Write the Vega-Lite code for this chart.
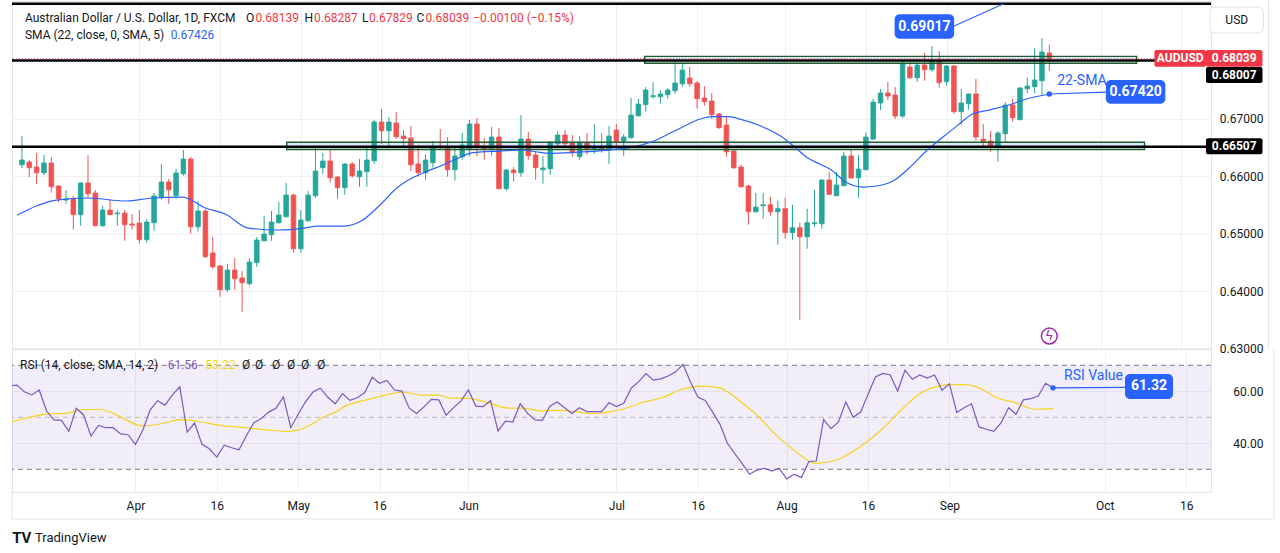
{
  "$schema": "https://vega.github.io/schema/vega-lite/v6.json",
  "background": "white",
  "padding": {"left": 10, "top": 0, "right": 0, "bottom": 0},
  "spacing": 0,
  "bounds": "flush",
  "datasets": {
    "candles": [
      {"i":1,"o":0.66196,"h":0.66695,"l":0.66139,"c":0.66278},
      {"i":2,"o":0.66243,"h":0.66278,"l":0.65982,"c":0.66144},
      {"i":3,"o":0.66156,"h":0.664,"l":0.6586,"c":0.66057},
      {"i":4,"o":0.66057,"h":0.66365,"l":0.66017,"c":0.66226},
      {"i":5,"o":0.66226,"h":0.6633,"l":0.65709,"c":0.65814},
      {"i":6,"o":0.65826,"h":0.65843,"l":0.65535,"c":0.65605},
      {"i":7,"o":0.65582,"h":0.65756,"l":0.65518,"c":0.656},
      {"i":8,"o":0.656,"h":0.65652,"l":0.65066,"c":0.65327},
      {"i":9,"o":0.65327,"h":0.6589,"l":0.65135,"c":0.65878},
      {"i":10,"o":0.65878,"h":0.66365,"l":0.65622,"c":0.65692},
      {"i":11,"o":0.65704,"h":0.65756,"l":0.65125,"c":0.65135},
      {"i":12,"o":0.65135,"h":0.65478,"l":0.65118,"c":0.65408},
      {"i":13,"o":0.65408,"h":0.656,"l":0.6532,"c":0.65327},
      {"i":14,"o":0.65344,"h":0.65408,"l":0.65135,"c":0.65356},
      {"i":15,"o":0.65356,"h":0.65408,"l":0.64874,"c":0.65153},
      {"i":16,"o":0.65165,"h":0.65339,"l":0.65066,"c":0.65147},
      {"i":17,"o":0.65182,"h":0.65408,"l":0.64822,"c":0.64892},
      {"i":18,"o":0.64892,"h":0.65252,"l":0.6484,"c":0.652},
      {"i":19,"o":0.65188,"h":0.65704,"l":0.65048,"c":0.65652},
      {"i":20,"o":0.65634,"h":0.66208,"l":0.65587,"c":0.65895},
      {"i":21,"o":0.65895,"h":0.65947,"l":0.65518,"c":0.65761},
      {"i":22,"o":0.65657,"h":0.66121,"l":0.65605,"c":0.66052},
      {"i":23,"o":0.6604,"h":0.66452,"l":0.66005,"c":0.66295},
      {"i":24,"o":0.66295,"h":0.6633,"l":0.64996,"c":0.65118},
      {"i":25,"o":0.65118,"h":0.65565,"l":0.65031,"c":0.65391},
      {"i":26,"o":0.65391,"h":0.65426,"l":0.64579,"c":0.64596},
      {"i":27,"o":0.64661,"h":0.64939,"l":0.64387,"c":0.64422},
      {"i":28,"o":0.64434,"h":0.64452,"l":0.63901,"c":0.64022},
      {"i":29,"o":0.64022,"h":0.64469,"l":0.63987,"c":0.64365},
      {"i":30,"o":0.64365,"h":0.64574,"l":0.64022,"c":0.64214},
      {"i":31,"o":0.64226,"h":0.64347,"l":0.6364,"c":0.64144},
      {"i":32,"o":0.64127,"h":0.64574,"l":0.64092,"c":0.64504},
      {"i":33,"o":0.64492,"h":0.64939,"l":0.64422,"c":0.64887},
      {"i":34,"o":0.64874,"h":0.65304,"l":0.6486,"c":0.64991},
      {"i":35,"o":0.64979,"h":0.65391,"l":0.64874,"c":0.652},
      {"i":36,"o":0.65188,"h":0.65547,"l":0.6517,"c":0.65321},
      {"i":37,"o":0.65292,"h":0.65878,"l":0.65274,"c":0.65669},
      {"i":38,"o":0.65669,"h":0.65687,"l":0.64666,"c":0.64735},
      {"i":39,"o":0.64735,"h":0.65408,"l":0.64666,"c":0.65234},
      {"i":40,"o":0.65222,"h":0.65739,"l":0.65205,"c":0.65669},
      {"i":41,"o":0.65657,"h":0.66487,"l":0.65622,"c":0.66087},
      {"i":42,"o":0.66144,"h":0.664,"l":0.6604,"c":0.6626},
      {"i":43,"o":0.6626,"h":0.66452,"l":0.65883,"c":0.6597},
      {"i":44,"o":0.65982,"h":0.66,"l":0.65605,"c":0.65796},
      {"i":45,"o":0.65796,"h":0.66226,"l":0.65675,"c":0.66208},
      {"i":46,"o":0.66208,"h":0.66243,"l":0.6597,"c":0.66005},
      {"i":47,"o":0.65987,"h":0.66295,"l":0.65814,"c":0.66087},
      {"i":48,"o":0.66075,"h":0.66487,"l":0.65814,"c":0.66278},
      {"i":49,"o":0.66266,"h":0.66974,"l":0.66213,"c":0.66939},
      {"i":50,"o":0.66939,"h":0.67165,"l":0.66561,"c":0.66787},
      {"i":51,"o":0.66787,"h":0.67026,"l":0.66509,"c":0.66939},
      {"i":52,"o":0.66921,"h":0.67113,"l":0.66643,"c":0.66683},
      {"i":53,"o":0.66695,"h":0.668,"l":0.66492,"c":0.66648},
      {"i":54,"o":0.6666,"h":0.66869,"l":0.66087,"c":0.66196},
      {"i":55,"o":0.66208,"h":0.66539,"l":0.65987,"c":0.66057},
      {"i":56,"o":0.66057,"h":0.66382,"l":0.65935,"c":0.66278},
      {"i":57,"o":0.66231,"h":0.66608,"l":0.66144,"c":0.66521},
      {"i":58,"o":0.66521,"h":0.66817,"l":0.66457,"c":0.66492},
      {"i":59,"o":0.66504,"h":0.66678,"l":0.65987,"c":0.66109},
      {"i":60,"o":0.66109,"h":0.66487,"l":0.65918,"c":0.66348},
      {"i":61,"o":0.66335,"h":0.66747,"l":0.66283,"c":0.66539},
      {"i":62,"o":0.66457,"h":0.66974,"l":0.66342,"c":0.66904},
      {"i":63,"o":0.66904,"h":0.67008,"l":0.66342,"c":0.66492},
      {"i":64,"o":0.66504,"h":0.6666,"l":0.66283,"c":0.66474},
      {"i":65,"o":0.66474,"h":0.66852,"l":0.66353,"c":0.66678},
      {"i":66,"o":0.66678,"h":0.66834,"l":0.6577,"c":0.65779},
      {"i":67,"o":0.65779,"h":0.66121,"l":0.65744,"c":0.66104},
      {"i":68,"o":0.66104,"h":0.66156,"l":0.65901,"c":0.66057},
      {"i":69,"o":0.66057,"h":0.6706,"l":0.65987,"c":0.66643},
      {"i":70,"o":0.66643,"h":0.66765,"l":0.66283,"c":0.66353},
      {"i":71,"o":0.66365,"h":0.66434,"l":0.65935,"c":0.66144},
      {"i":72,"o":0.66109,"h":0.66348,"l":0.65866,"c":0.66139},
      {"i":73,"o":0.66127,"h":0.666,"l":0.66022,"c":0.66591},
      {"i":74,"o":0.66561,"h":0.66782,"l":0.66527,"c":0.66713},
      {"i":75,"o":0.66713,"h":0.668,"l":0.66492,"c":0.66561},
      {"i":76,"o":0.66574,"h":0.66713,"l":0.66335,"c":0.66405},
      {"i":77,"o":0.66335,"h":0.66695,"l":0.66283,"c":0.66574},
      {"i":78,"o":0.66574,"h":0.66747,"l":0.6637,"c":0.66474},
      {"i":79,"o":0.66474,"h":0.66904,"l":0.66387,"c":0.66492},
      {"i":80,"o":0.66492,"h":0.66747,"l":0.66405,"c":0.66474},
      {"i":81,"o":0.66457,"h":0.66869,"l":0.66213,"c":0.66695},
      {"i":82,"o":0.668,"h":0.66904,"l":0.66447,"c":0.66596},
      {"i":83,"o":0.66596,"h":0.6673,"l":0.66353,"c":0.66678},
      {"i":84,"o":0.66666,"h":0.67356,"l":0.66648,"c":0.6706},
      {"i":85,"o":0.67048,"h":0.67339,"l":0.67031,"c":0.67252},
      {"i":86,"o":0.6724,"h":0.67547,"l":0.67118,"c":0.67495},
      {"i":87,"o":0.67379,"h":0.67634,"l":0.67344,"c":0.67396},
      {"i":88,"o":0.67379,"h":0.67495,"l":0.67257,"c":0.67426},
      {"i":89,"o":0.67413,"h":0.6753,"l":0.67344,"c":0.67495},
      {"i":90,"o":0.67483,"h":0.68017,"l":0.67431,"c":0.67617},
      {"i":91,"o":0.67605,"h":0.67947,"l":0.67553,"c":0.67843},
      {"i":92,"o":0.67704,"h":0.67895,"l":0.67553,"c":0.67605},
      {"i":93,"o":0.67617,"h":0.67652,"l":0.6717,"c":0.67344},
      {"i":94,"o":0.67356,"h":0.67565,"l":0.67222,"c":0.67292},
      {"i":95,"o":0.67304,"h":0.67443,"l":0.66996,"c":0.67066},
      {"i":96,"o":0.67078,"h":0.67095,"l":0.66822,"c":0.6684},
      {"i":97,"o":0.66886,"h":0.67043,"l":0.66335,"c":0.66422},
      {"i":98,"o":0.66434,"h":0.66474,"l":0.66127,"c":0.66144},
      {"i":99,"o":0.66156,"h":0.66196,"l":0.65796,"c":0.65814},
      {"i":100,"o":0.65826,"h":0.65849,"l":0.65153,"c":0.65379},
      {"i":101,"o":0.65379,"h":0.65709,"l":0.65361,"c":0.6546},
      {"i":102,"o":0.65483,"h":0.65709,"l":0.65257,"c":0.655},
      {"i":103,"o":0.655,"h":0.6564,"l":0.65309,"c":0.65379},
      {"i":104,"o":0.65379,"h":0.6557,"l":0.64805,"c":0.65431},
      {"i":105,"o":0.65431,"h":0.65622,"l":0.64909,"c":0.65014},
      {"i":106,"o":0.65014,"h":0.655,"l":0.64892,"c":0.65101},
      {"i":107,"o":0.65101,"h":0.65187,"l":0.63501,"c":0.64944},
      {"i":108,"o":0.64944,"h":0.65431,"l":0.64735,"c":0.65187},
      {"i":109,"o":0.6517,"h":0.65761,"l":0.65118,"c":0.65187},
      {"i":110,"o":0.6517,"h":0.65942,"l":0.65083,"c":0.6593},
      {"i":111,"o":0.6593,"h":0.66069,"l":0.65675,"c":0.65681},
      {"i":112,"o":0.65657,"h":0.66069,"l":0.6565,"c":0.65843},
      {"i":113,"o":0.65831,"h":0.66422,"l":0.6582,"c":0.66348},
      {"i":114,"o":0.66348,"h":0.66452,"l":0.6596,"c":0.65965},
      {"i":115,"o":0.6597,"h":0.66365,"l":0.65622,"c":0.66121},
      {"i":116,"o":0.66109,"h":0.66753,"l":0.66099,"c":0.66678},
      {"i":117,"o":0.66643,"h":0.67344,"l":0.66626,"c":0.67287},
      {"i":118,"o":0.67269,"h":0.67513,"l":0.67147,"c":0.67443},
      {"i":119,"o":0.67443,"h":0.67634,"l":0.67321,"c":0.67391},
      {"i":120,"o":0.67408,"h":0.67547,"l":0.66991,"c":0.67043},
      {"i":121,"o":0.67043,"h":0.68,"l":0.67013,"c":0.6796},
      {"i":122,"o":0.67895,"h":0.67977,"l":0.67692,"c":0.67709},
      {"i":123,"o":0.67709,"h":0.6796,"l":0.6764,"c":0.6793},
      {"i":124,"o":0.6793,"h":0.68139,"l":0.67657,"c":0.67848},
      {"i":125,"o":0.67848,"h":0.6826,"l":0.67814,"c":0.68005},
      {"i":126,"o":0.68005,"h":0.68173,"l":0.67535,"c":0.67622},
      {"i":127,"o":0.6764,"h":0.6793,"l":0.6757,"c":0.67913},
      {"i":128,"o":0.67913,"h":0.6793,"l":0.67083,"c":0.67118},
      {"i":129,"o":0.67118,"h":0.67513,"l":0.66899,"c":0.67269},
      {"i":130,"o":0.67257,"h":0.67435,"l":0.67153,"c":0.67426},
      {"i":131,"o":0.67426,"h":0.67687,"l":0.66614,"c":0.66678},
      {"i":132,"o":0.66643,"h":0.66904,"l":0.66492,"c":0.66591},
      {"i":133,"o":0.66608,"h":0.66782,"l":0.66422,"c":0.66521},
      {"i":134,"o":0.66521,"h":0.66782,"l":0.66248,"c":0.66747},
      {"i":135,"o":0.66735,"h":0.67287,"l":0.66596,"c":0.67234},
      {"i":136,"o":0.67234,"h":0.67339,"l":0.66944,"c":0.67013},
      {"i":137,"o":0.66979,"h":0.67547,"l":0.66975,"c":0.6753},
      {"i":138,"o":0.67518,"h":0.67709,"l":0.67443,"c":0.67565},
      {"i":139,"o":0.67553,"h":0.68226,"l":0.67443,"c":0.67669},
      {"i":140,"o":0.67657,"h":0.684,"l":0.67396,"c":0.68156},
      {"i":141,"o":0.68139,"h":0.68287,"l":0.67829,"c":0.68039}
    ],
    "sma": [
      {"i":0.33,"v":0.65316},{"i":5.73,"v":0.65582},{"i":9.78,"v":0.65617},{"i":15.19,"v":0.65565},
      {"i":18.84,"v":0.65617},{"i":22.89,"v":0.65634},{"i":26.0,"v":0.65443},{"i":28.7,"v":0.65339},
      {"i":31.81,"v":0.65095},{"i":35.86,"v":0.65061},{"i":39.51,"v":0.65095},{"i":41.27,"v":0.6513},
      {"i":44.92,"v":0.6513},{"i":47.22,"v":0.65217},{"i":49.92,"v":0.65513},{"i":52.08,"v":0.65791},
      {"i":53.43,"v":0.65913},{"i":55.73,"v":0.66057},{"i":58.03,"v":0.66174},{"i":60.19,"v":0.66295},
      {"i":62.49,"v":0.66405},{"i":66.14,"v":0.66434},{"i":69.24,"v":0.66452},{"i":71.0,"v":0.66422},
      {"i":72.89,"v":0.66394},{"i":76.41,"v":0.66412},{"i":80.05,"v":0.66443},{"i":83.7,"v":0.66492},
      {"i":86.81,"v":0.66596},{"i":89.92,"v":0.66782},{"i":93.57,"v":0.66996},{"i":94.92,"v":0.67031},
      {"i":97.22,"v":0.67031},{"i":98.97,"v":0.66986},{"i":101.68,"v":0.66869},{"i":104.38,"v":0.66695},
      {"i":106.14,"v":0.66521},{"i":108.03,"v":0.66318},{"i":109.78,"v":0.66203},{"i":111.14,"v":0.66116},
      {"i":113.43,"v":0.65883},{"i":115.59,"v":0.65808},{"i":117.49,"v":0.65826},{"i":119.92,"v":0.6593},
      {"i":121.95,"v":0.66144},{"i":124.24,"v":0.66434},{"i":126.68,"v":0.66695},{"i":128.7,"v":0.66899},
      {"i":130.46,"v":0.67073},{"i":132.76,"v":0.67147},{"i":135.46,"v":0.67234},{"i":137.76,"v":0.67334},
      {"i":141,"v":0.67426}
    ],
    "rsi": [
      {"i":0,"v":62.1},{"i":1,"v":62.4},{"i":2,"v":59.8},{"i":3,"v":58.6},{"i":4,"v":60.5},{"i":5,"v":52.4},
      {"i":6,"v":49.0},{"i":7,"v":48.8},{"i":8,"v":44.6},{"i":9,"v":53.5},{"i":10,"v":50.9},
      {"i":11,"v":42.8},{"i":12,"v":46.9},{"i":13,"v":46.0},{"i":14,"v":46.0},{"i":15,"v":43.6},
      {"i":16,"v":43.3},{"i":17,"v":39.6},{"i":18,"v":45.0},{"i":19,"v":52.9},{"i":20,"v":56.4},
      {"i":21,"v":54.7},{"i":22,"v":58.6},{"i":23,"v":61.7},{"i":24,"v":44.3},{"i":25,"v":47.8},
      {"i":26,"v":39.6},{"i":27,"v":37.9},{"i":28,"v":34.7},{"i":29,"v":39.3},{"i":30,"v":38.3},
      {"i":31,"v":37.5},{"i":32,"v":42.9},{"i":33,"v":47.9},{"i":34,"v":49.5},{"i":35,"v":52.0},
      {"i":36,"v":53.5},{"i":37,"v":57.8},{"i":38,"v":46.0},{"i":39,"v":51.2},{"i":40,"v":56.0},
      {"i":41,"v":59.7},{"i":42,"v":61.2},{"i":43,"v":57.7},{"i":44,"v":55.2},{"i":45,"v":59.1},
      {"i":46,"v":56.5},{"i":47,"v":57.5},{"i":48,"v":59.5},{"i":49,"v":65.4},{"i":50,"v":63.1},
      {"i":51,"v":64.2},{"i":52,"v":60.5},{"i":53,"v":60.1},{"i":54,"v":53.5},{"i":55,"v":51.5},
      {"i":56,"v":54.0},{"i":57,"v":56.9},{"i":58,"v":56.7},{"i":59,"v":50.8},{"i":60,"v":53.7},
      {"i":61,"v":56.3},{"i":62,"v":60.5},{"i":63,"v":54.3},{"i":64,"v":54.1},{"i":65,"v":56.4},
      {"i":66,"v":44.7},{"i":67,"v":48.5},{"i":68,"v":48.2},{"i":69,"v":55.2},{"i":70,"v":51.5},
      {"i":71,"v":49.0},{"i":72,"v":48.8},{"i":73,"v":54.3},{"i":74,"v":55.9},{"i":75,"v":53.7},
      {"i":76,"v":51.5},{"i":77,"v":53.7},{"i":78,"v":52.2},{"i":79,"v":52.2},{"i":80,"v":52.2},
      {"i":81,"v":55.6},{"i":82,"v":54.1},{"i":83,"v":55.4},{"i":84,"v":61.2},{"i":85,"v":63.7},
      {"i":86,"v":66.8},{"i":87,"v":64.3},{"i":88,"v":64.8},{"i":89,"v":65.9},{"i":90,"v":67.5},
      {"i":91,"v":70.4},{"i":92,"v":63.7},{"i":93,"v":57.8},{"i":94,"v":56.5},{"i":95,"v":52.0},
      {"i":96,"v":47.3},{"i":97,"v":40.0},{"i":98,"v":36.0},{"i":99,"v":32.2},{"i":100,"v":28.1},
      {"i":101,"v":29.7},{"i":102,"v":30.4},{"i":103,"v":29.3},{"i":104,"v":30.4},{"i":105,"v":26.3},
      {"i":106,"v":28.1},{"i":107,"v":26.8},{"i":108,"v":33.0},{"i":109,"v":33.2},{"i":110,"v":49.1},
      {"i":111,"v":45.6},{"i":112,"v":48.2},{"i":113,"v":55.9},{"i":114,"v":50.0},{"i":115,"v":52.0},
      {"i":116,"v":58.8},{"i":117,"v":65.5},{"i":118,"v":66.9},{"i":119,"v":66.3},{"i":120,"v":60.1},
      {"i":121,"v":68.1},{"i":122,"v":64.6},{"i":123,"v":66.3},{"i":124,"v":65.1},{"i":125,"v":66.3},
      {"i":126,"v":60.4},{"i":127,"v":62.9},{"i":128,"v":51.8},{"i":129,"v":53.7},{"i":130,"v":55.2},
      {"i":131,"v":46.3},{"i":132,"v":45.4},{"i":133,"v":44.6},{"i":134,"v":47.9},{"i":135,"v":53.7},
      {"i":136,"v":51.2},{"i":137,"v":56.7},{"i":138,"v":57.2},{"i":139,"v":58.2},{"i":140,"v":63.1},
      {"i":141,"v":61.32}
    ],
    "rsima": [
      {"i":0.3,"v":48.2},{"i":3.03,"v":50.2},{"i":4.83,"v":51.2},{"i":7.98,"v":51.7},{"i":9.78,"v":52.9},
      {"i":12.04,"v":53.1},{"i":13.84,"v":51.8},{"i":15.64,"v":49.2},{"i":17.89,"v":46.7},{"i":21.04,"v":47.8},
      {"i":22.85,"v":49.1},{"i":26.0,"v":48.2},{"i":28.26,"v":47.0},{"i":31.86,"v":46.0},{"i":35.01,"v":45.1},
      {"i":37.26,"v":44.6},{"i":38.84,"v":45.0},{"i":40.86,"v":47.3},{"i":42.22,"v":49.8},{"i":44.01,"v":52.0},
      {"i":45.37,"v":54.3},{"i":47.62,"v":56.3},{"i":49.88,"v":57.9},{"i":51.23,"v":58.8},{"i":53.03,"v":59.8},
      {"i":55.73,"v":58.5},{"i":57.99,"v":58.5},{"i":59.34,"v":57.5},{"i":62.04,"v":57.3},{"i":64.28,"v":55.9},
      {"i":67.45,"v":53.5},{"i":69.24,"v":53.5},{"i":71.95,"v":52.4},{"i":74.65,"v":52.7},{"i":78.7,"v":51.5},
      {"i":82.76,"v":53.1},{"i":85.91,"v":56.0},{"i":88.16,"v":57.5},{"i":90.86,"v":60.8},{"i":93.57,"v":62.0},
      {"i":95.82,"v":61.4},{"i":97.17,"v":59.5},{"i":98.97,"v":55.6},{"i":101.23,"v":50.2},{"i":103.03,"v":44.7},
      {"i":105.28,"v":39.0},{"i":107.08,"v":35.0},{"i":108.88,"v":32.3},{"i":111.58,"v":33.5},{"i":114.74,"v":38.3},
      {"i":117.89,"v":45.4},{"i":120.59,"v":53.1},{"i":122.85,"v":58.8},{"i":125.09,"v":61.7},{"i":127.35,"v":62.7},
      {"i":129.6,"v":62.5},{"i":131.41,"v":60.8},{"i":133.2,"v":57.8},{"i":135.91,"v":55.6},{"i":138.61,"v":53.1},
      {"i":141,"v":53.3}
    ],
    "zones": [
      {"i":85.86,"i2":152.89,"p":0.6796,"p2":0.68081},
      {"i":37.08,"i2":153.97,"p":0.6646,"p2":0.66586}
    ],
    "levels": [{"p":0.68007},{"p":0.66507},{"p":0.68997}],
    "last": [{"p":0.68039}],
    "links": [
      {"g":"a","i":128.03,"p":0.68608},{"g":"a","i":134.78,"p":0.68996},
      {"g":"b","i":141,"p":0.67426},{"g":"b","i":148.7,"p":0.6746}
    ],
    "dots": [{"i":141,"p":0.67426}],
    "callouts": [
      {"i":119.92,"i2":128.03,"p":0.68387,"p2":0.68812,"ic":123.97,"pc":0.686,"t":"0.69017"},
      {"i":148.7,"i2":156.81,"p":0.67257,"p2":0.67669,"ic":152.76,"pc":0.6746,"t":"0.67420"}
    ],
    "tags": [
      {"i":155.32,"i2":162.35,"p":0.679,"p2":0.68191,"ic":158.84,"pc":0.68046,"k":"down","t":"AUDUSD"},
      {"i":162.35,"i2":170.05,"p":0.679,"p2":0.68191,"ic":166.2,"pc":0.68046,"k":"down","t":"0.68039"},
      {"i":162.35,"i2":170.05,"p":0.67617,"p2":0.67895,"ic":166.2,"pc":0.67756,"k":"black","t":"0.68007"},
      {"i":162.35,"i2":170.05,"p":0.66377,"p2":0.66655,"ic":166.2,"pc":0.66516,"k":"black","t":"0.66507"}
    ],
    "usd": [{"i":162.89,"i2":170.19,"p":0.68486,"p2":0.68939,"ic":166.54,"pc":0.68713,"t":"USD"}],
    "legend": [
      {"i":1.405,"p":0.68756,"t":"Australian Dollar / U.S. Dollar, 1D, FXCM","k":"dark"},
      {"i":31.54,"p":0.68756,"t":"O","k":"dark"},
      {"i":32.82,"p":0.68756,"t":"0.68139","k":"down"},
      {"i":39.51,"p":0.68756,"t":"H","k":"dark"},
      {"i":40.8,"p":0.68756,"t":"0.68287","k":"down"},
      {"i":47.35,"p":0.68756,"t":"L","k":"dark"},
      {"i":48.3,"p":0.68756,"t":"0.67829","k":"down"},
      {"i":54.78,"p":0.68756,"t":"C","k":"dark"},
      {"i":55.99,"p":0.68756,"t":"0.68039","k":"down"},
      {"i":62.49,"p":0.68756,"t":"−0.00100 (−0.15%)","k":"down"},
      {"i":1.405,"p":0.6846,"t":"SMA (22, close, 0, SMA, 5)","k":"dark"},
      {"i":21.27,"p":0.6846,"t":"0.67426","k":"blue"}
    ],
    "notes": [{"i":142.08,"p":0.67652,"t":"22-SMA"}],
    "icon": [{"i":141,"p":0.63217}],
    "band": [{"lo":30,"hi":70}],
    "rsilev": [{"v":70,"k":"outer"},{"v":30,"k":"outer"},{"v":50,"k":"mid"}],
    "rsilink": [{"i":141,"v":61.32},{"i":150.73,"v":61.5}],
    "rsidot": [{"i":141,"v":61.32}],
    "rsibox": [{"i":150.73,"i2":157.22,"v":57.04,"v2":66.65,"ic":153.97,"vc":61.85,"t":"61.32"}],
    "rsilegend": [
      {"i":1.405,"v":70,"t":"RSI (14, close, SMA, 14, 2)","k":"dark"},
      {"i":21.36,"v":70,"t":"61.56","k":"rsi"},
      {"i":26.45,"v":70,"t":"53.22","k":"ma"},
      {"i":31.41,"v":70,"t":"Ø","k":"dark"},
      {"i":33.16,"v":70,"t":"Ø","k":"dark"},
      {"i":35.46,"v":70,"t":"Ø","k":"dark"},
      {"i":37.49,"v":70,"t":"Ø","k":"dark"},
      {"i":39.38,"v":70,"t":"Ø","k":"dark"},
      {"i":41.54,"v":70,"t":"Ø","k":"dark"}
    ],
    "rsinote": [{"i":142.49,"v":65.9,"t":"RSI Value"}],
    "brand": [{"i":3.43,"v":3.58,"t":"TradingView"}],
    "brandmark": [{"i":0.35,"v":3.58,"t":"TV"}],
    "frame": [
      {"i":0.3243,"i2":0.3243,"v":21.27,"v2":10.88},
      {"i":0.3243,"i2":170.86,"v":10.88,"v2":10.88},
      {"i":170.86,"i2":170.86,"v":10.88,"v2":76.27}
    ]
  },
  "vconcat": [
    {
      "width": 1199,
      "height": 348,
      "layer": [
        {
          "data": {"name": "candles"},
          "mark": {"type": "rule", "strokeWidth": 1},
          "encoding": {
            "x": {"field": "i", "type": "quantitative", "title": null, "scale": {"domain": [0.3243, 162.351], "nice": false, "zero": false},
                  "axis": {"title": null, "labels": false, "grid": true, "values": [17, 28, 39, 50, 62, 82, 93, 105, 116, 127, 148, 159]}},
            "y": {"field": "l", "type": "quantitative", "title": null, "scale": {"domain": [0.629913, 0.690435], "nice": false, "zero": false},
                  "axis": {"title": null, "orient": "right", "values": [0.63, 0.64, 0.65, 0.66, 0.67], "format": ".5f", "labelAlign": "right", "labelPadding": 52, "grid": true}},
            "y2": {"field": "h"},
            "color": {"condition": {"test": "datum.c >= datum.o", "value": "#26a69a"}, "value": "#ef5350"}
          }
        },
        {
          "data": {"name": "candles"},
          "mark": {"type": "bar", "width": 4.6, "strokeWidth": 0.8},
          "encoding": {
            "x": {"field": "i", "type": "quantitative", "title": null, "scale": {"domain": [0.3243, 162.351], "nice": false, "zero": false}},
            "y": {"field": "o", "type": "quantitative", "title": null, "scale": {"domain": [0.629913, 0.690435], "nice": false, "zero": false}},
            "y2": {"field": "c"},
            "color": {"condition": {"test": "datum.c >= datum.o", "value": "#26a69a"}, "value": "#ef5350"},
            "stroke": {"condition": {"test": "datum.c >= datum.o", "value": "#26a69a"}, "value": "#ef5350"}
          }
        },
        {
          "data": {"name": "zones"},
          "mark": {"type": "rect", "fill": "#2962ff", "fillOpacity": 0.14, "stroke": "#1e5e2a", "strokeWidth": 1.4},
          "encoding": {
            "x": {"field": "i", "type": "quantitative", "title": null, "scale": {"domain": [0.3243, 162.351], "nice": false, "zero": false}},
            "x2": {"field": "i2"},
            "y": {"field": "p", "type": "quantitative", "title": null, "scale": {"domain": [0.629913, 0.690435], "nice": false, "zero": false}},
            "y2": {"field": "p2"}
          }
        },
        {
          "data": {"name": "sma"},
          "mark": {"type": "line", "color": "#2962ff", "strokeWidth": 1.2, "clip": true, "interpolate": "monotone"},
          "encoding": {
            "x": {"field": "i", "type": "quantitative", "title": null, "scale": {"domain": [0.3243, 162.351], "nice": false, "zero": false}},
            "y": {"field": "v", "type": "quantitative", "title": null, "scale": {"domain": [0.629913, 0.690435], "nice": false, "zero": false}}
          }
        },
        {
          "data": {"name": "levels"},
          "mark": {"type": "rule", "color": "#000000", "strokeWidth": 2.5},
          "encoding": {
            "y": {"field": "p", "type": "quantitative", "title": null, "scale": {"domain": [0.629913, 0.690435], "nice": false, "zero": false}}
          }
        },
        {
          "data": {"name": "last"},
          "mark": {"type": "rule", "color": "#f23645", "strokeWidth": 1, "strokeDash": [1, 2]},
          "encoding": {
            "y": {"field": "p", "type": "quantitative", "title": null, "scale": {"domain": [0.629913, 0.690435], "nice": false, "zero": false}}
          }
        },
        {
          "data": {"name": "links"},
          "mark": {"type": "line", "color": "#2962ff", "strokeWidth": 1.2},
          "encoding": {
            "x": {"field": "i", "type": "quantitative", "title": null, "scale": {"domain": [0.3243, 162.351], "nice": false, "zero": false}},
            "y": {"field": "p", "type": "quantitative", "title": null, "scale": {"domain": [0.629913, 0.690435], "nice": false, "zero": false}},
            "detail": {"field": "g"}
          }
        },
        {
          "data": {"name": "dots"},
          "mark": {"type": "point", "filled": true, "color": "#2962ff", "size": 30, "opacity": 1},
          "encoding": {
            "x": {"field": "i", "type": "quantitative", "title": null, "scale": {"domain": [0.3243, 162.351], "nice": false, "zero": false}},
            "y": {"field": "p", "type": "quantitative", "title": null, "scale": {"domain": [0.629913, 0.690435], "nice": false, "zero": false}}
          }
        },
        {
          "data": {"name": "callouts"},
          "mark": {"type": "rect", "fill": "#2962ff", "cornerRadius": 5},
          "encoding": {
            "x": {"field": "i", "type": "quantitative", "title": null, "scale": {"domain": [0.3243, 162.351], "nice": false, "zero": false}},
            "x2": {"field": "i2"},
            "y": {"field": "p", "type": "quantitative", "title": null, "scale": {"domain": [0.629913, 0.690435], "nice": false, "zero": false}},
            "y2": {"field": "p2"}
          }
        },
        {
          "data": {"name": "tags"},
          "mark": {"type": "rect", "cornerRadius": 2},
          "encoding": {
            "x": {"field": "i", "type": "quantitative", "title": null, "scale": {"domain": [0.3243, 162.351], "nice": false, "zero": false}},
            "x2": {"field": "i2"},
            "y": {"field": "p", "type": "quantitative", "title": null, "scale": {"domain": [0.629913, 0.690435], "nice": false, "zero": false}},
            "y2": {"field": "p2"},
            "fill": {"field": "k", "type": "nominal", "scale": {"domain": ["down", "black"], "range": ["#f23645", "#000000"]}, "legend": null}
          }
        },
        {
          "data": {"name": "usd"},
          "mark": {"type": "rect", "fill": "#ffffff", "stroke": "#e0e3eb", "strokeWidth": 1, "cornerRadius": 5},
          "encoding": {
            "x": {"field": "i", "type": "quantitative", "title": null, "scale": {"domain": [0.3243, 162.351], "nice": false, "zero": false}},
            "x2": {"field": "i2"},
            "y": {"field": "p", "type": "quantitative", "title": null, "scale": {"domain": [0.629913, 0.690435], "nice": false, "zero": false}},
            "y2": {"field": "p2"}
          }
        },
        {
          "data": {"name": "legend"},
          "mark": {"type": "text", "align": "left", "baseline": "middle", "fontSize": 12, "font": "Roboto"},
          "encoding": {
            "x": {"field": "i", "type": "quantitative", "title": null, "scale": {"domain": [0.3243, 162.351], "nice": false, "zero": false}},
            "y": {"field": "p", "type": "quantitative", "title": null, "scale": {"domain": [0.629913, 0.690435], "nice": false, "zero": false}},
            "text": {"field": "t"},
            "color": {"field": "k", "type": "nominal", "scale": {"domain": ["dark", "down", "blue", "rsi", "ma"], "range": ["#131722", "#f23645", "#2962ff", "#7e57c2", "#f5d31c"]}, "legend": null}
          }
        },
        {
          "data": {"name": "callouts"},
          "mark": {"type": "text", "align": "center", "baseline": "middle", "fontSize": 14, "fontWeight": "bold", "color": "#ffffff", "font": "Roboto"},
          "encoding": {
            "x": {"field": "ic", "type": "quantitative", "title": null, "scale": {"domain": [0.3243, 162.351], "nice": false, "zero": false}},
            "y": {"field": "pc", "type": "quantitative", "title": null, "scale": {"domain": [0.629913, 0.690435], "nice": false, "zero": false}},
            "text": {"field": "t"}
          }
        },
        {
          "data": {"name": "notes"},
          "mark": {"type": "text", "align": "left", "baseline": "middle", "fontSize": 14, "color": "#2962ff", "font": "Roboto"},
          "encoding": {
            "x": {"field": "i", "type": "quantitative", "title": null, "scale": {"domain": [0.3243, 162.351], "nice": false, "zero": false}},
            "y": {"field": "p", "type": "quantitative", "title": null, "scale": {"domain": [0.629913, 0.690435], "nice": false, "zero": false}},
            "text": {"field": "t"}
          }
        },
        {
          "data": {"name": "tags"},
          "mark": {"type": "text", "align": "center", "baseline": "middle", "fontSize": 12, "fontWeight": "bold", "color": "#ffffff", "font": "Roboto"},
          "encoding": {
            "x": {"field": "ic", "type": "quantitative", "title": null, "scale": {"domain": [0.3243, 162.351], "nice": false, "zero": false}},
            "y": {"field": "pc", "type": "quantitative", "title": null, "scale": {"domain": [0.629913, 0.690435], "nice": false, "zero": false}},
            "text": {"field": "t"}
          }
        },
        {
          "data": {"name": "usd"},
          "mark": {"type": "text", "align": "center", "baseline": "middle", "fontSize": 12, "color": "#131722", "font": "Roboto"},
          "encoding": {
            "x": {"field": "ic", "type": "quantitative", "title": null, "scale": {"domain": [0.3243, 162.351], "nice": false, "zero": false}},
            "y": {"field": "pc", "type": "quantitative", "title": null, "scale": {"domain": [0.629913, 0.690435], "nice": false, "zero": false}},
            "text": {"field": "t"}
          }
        },
        {
          "data": {"name": "icon"},
          "mark": {"type": "point", "shape": "circle", "size": 250, "filled": false, "stroke": "#9c27b0", "strokeWidth": 1.5, "opacity": 1},
          "encoding": {
            "x": {"field": "i", "type": "quantitative", "title": null, "scale": {"domain": [0.3243, 162.351], "nice": false, "zero": false}},
            "y": {"field": "p", "type": "quantitative", "title": null, "scale": {"domain": [0.629913, 0.690435], "nice": false, "zero": false}}
          }
        },
        {
          "data": {"name": "icon"},
          "mark": {"type": "text", "text": "ϟ", "align": "center", "baseline": "middle", "fontSize": 13, "color": "#9c27b0", "font": "DejaVu Sans"},
          "encoding": {
            "x": {"field": "i", "type": "quantitative", "title": null, "scale": {"domain": [0.3243, 162.351], "nice": false, "zero": false}},
            "y": {"field": "p", "type": "quantitative", "title": null, "scale": {"domain": [0.629913, 0.690435], "nice": false, "zero": false}}
          }
        },
        {
          "data": {"name": "icon"},
          "mark": {"type": "rule", "color": "#e0e3eb", "strokeWidth": 1},
          "encoding": {
            "x": {"datum": 170.86, "type": "quantitative", "title": null, "scale": {"domain": [0.3243, 162.351], "nice": false, "zero": false}}
          }
        }
      ]
    },
    {
      "width": 1199,
      "height": 143,
      "layer": [
        {
          "data": {"name": "band"},
          "mark": {"type": "rect", "fill": "#7e57c2", "fillOpacity": 0.1},
          "encoding": {
            "x": {"datum": 0.3243, "type": "quantitative", "title": null, "scale": {"domain": [0.3243, 162.351], "nice": false, "zero": false}},
            "x2": {"datum": 162.351},
            "y": {"field": "lo", "type": "quantitative", "title": null, "scale": {"domain": [21.27, 76.27], "nice": false, "zero": false}},
            "y2": {"field": "hi"}
          }
        },
        {
          "data": {"name": "rsilev"},
          "mark": {"type": "rule", "strokeWidth": 1, "strokeDash": [5, 4]},
          "encoding": {
            "y": {"field": "v", "type": "quantitative", "title": null, "scale": {"domain": [21.27, 76.27], "nice": false, "zero": false}},
            "stroke": {"field": "k", "type": "nominal", "scale": {"domain": ["outer", "mid"], "range": ["#787b86", "#b8bac2"]}, "legend": null}
          }
        },
        {
          "data": {"name": "rsima"},
          "mark": {"type": "line", "color": "#f5d31c", "strokeWidth": 1.2, "clip": true, "interpolate": "monotone"},
          "encoding": {
            "x": {"field": "i", "type": "quantitative", "title": null, "scale": {"domain": [0.3243, 162.351], "nice": false, "zero": false}},
            "y": {"field": "v", "type": "quantitative", "title": null, "scale": {"domain": [21.27, 76.27], "nice": false, "zero": false}}
          }
        },
        {
          "data": {"name": "rsi"},
          "mark": {"type": "line", "color": "#7e57c2", "strokeWidth": 1.2, "clip": true},
          "encoding": {
            "x": {"field": "i", "type": "quantitative", "title": null, "scale": {"domain": [0.3243, 162.351], "nice": false, "zero": false},
                  "axis": {"title": null, "grid": true, "values": [17, 28, 39, 50, 62, 82, 93, 105, 116, 127, 148, 159], "labelPadding": 8,
                           "labelExpr": "datum.value == 17 ? 'Apr' : datum.value == 39 ? 'May' : datum.value == 62 ? 'Jun' : datum.value == 82 ? 'Jul' : datum.value == 105 ? 'Aug' : datum.value == 127 ? 'Sep' : datum.value == 148 ? 'Oct' : '16'"}},
            "y": {"field": "v", "type": "quantitative", "title": null, "scale": {"domain": [21.27, 76.27], "nice": false, "zero": false},
                  "axis": {"title": null, "orient": "right", "values": [40, 60], "format": ".2f", "labelAlign": "right", "labelPadding": 52, "grid": true}}
          }
        },
        {
          "data": {"name": "rsilink"},
          "mark": {"type": "line", "color": "#2962ff", "strokeWidth": 1.2},
          "encoding": {
            "x": {"field": "i", "type": "quantitative", "title": null, "scale": {"domain": [0.3243, 162.351], "nice": false, "zero": false}},
            "y": {"field": "v", "type": "quantitative", "title": null, "scale": {"domain": [21.27, 76.27], "nice": false, "zero": false}}
          }
        },
        {
          "data": {"name": "rsidot"},
          "mark": {"type": "point", "filled": true, "color": "#2962ff", "size": 30, "opacity": 1},
          "encoding": {
            "x": {"field": "i", "type": "quantitative", "title": null, "scale": {"domain": [0.3243, 162.351], "nice": false, "zero": false}},
            "y": {"field": "v", "type": "quantitative", "title": null, "scale": {"domain": [21.27, 76.27], "nice": false, "zero": false}}
          }
        },
        {
          "data": {"name": "rsibox"},
          "mark": {"type": "rect", "fill": "#2962ff", "cornerRadius": 5},
          "encoding": {
            "x": {"field": "i", "type": "quantitative", "title": null, "scale": {"domain": [0.3243, 162.351], "nice": false, "zero": false}},
            "x2": {"field": "i2"},
            "y": {"field": "v", "type": "quantitative", "title": null, "scale": {"domain": [21.27, 76.27], "nice": false, "zero": false}},
            "y2": {"field": "v2"}
          }
        },
        {
          "data": {"name": "rsibox"},
          "mark": {"type": "text", "align": "center", "baseline": "middle", "fontSize": 14, "fontWeight": "bold", "color": "#ffffff", "font": "Roboto"},
          "encoding": {
            "x": {"field": "ic", "type": "quantitative", "title": null, "scale": {"domain": [0.3243, 162.351], "nice": false, "zero": false}},
            "y": {"field": "vc", "type": "quantitative", "title": null, "scale": {"domain": [21.27, 76.27], "nice": false, "zero": false}},
            "text": {"field": "t"}
          }
        },
        {
          "data": {"name": "rsilegend"},
          "mark": {"type": "text", "align": "left", "baseline": "middle", "fontSize": 12, "font": "Roboto"},
          "encoding": {
            "x": {"field": "i", "type": "quantitative", "title": null, "scale": {"domain": [0.3243, 162.351], "nice": false, "zero": false}},
            "y": {"field": "v", "type": "quantitative", "title": null, "scale": {"domain": [21.27, 76.27], "nice": false, "zero": false}},
            "text": {"field": "t"},
            "color": {"field": "k", "type": "nominal", "scale": {"domain": ["dark", "down", "blue", "rsi", "ma"], "range": ["#131722", "#f23645", "#2962ff", "#7e57c2", "#f5d31c"]}, "legend": null}
          }
        },
        {
          "data": {"name": "rsinote"},
          "mark": {"type": "text", "align": "left", "baseline": "middle", "fontSize": 14, "color": "#2962ff", "font": "Roboto"},
          "encoding": {
            "x": {"field": "i", "type": "quantitative", "title": null, "scale": {"domain": [0.3243, 162.351], "nice": false, "zero": false}},
            "y": {"field": "v", "type": "quantitative", "title": null, "scale": {"domain": [21.27, 76.27], "nice": false, "zero": false}},
            "text": {"field": "t"}
          }
        },
        {
          "data": {"name": "brand"},
          "mark": {"type": "text", "align": "left", "baseline": "middle", "fontSize": 13, "color": "#131722", "font": "Roboto"},
          "encoding": {
            "x": {"field": "i", "type": "quantitative", "title": null, "scale": {"domain": [0.3243, 162.351], "nice": false, "zero": false}},
            "y": {"field": "v", "type": "quantitative", "title": null, "scale": {"domain": [21.27, 76.27], "nice": false, "zero": false}},
            "text": {"field": "t"}
          }
        },
        {
          "data": {"name": "brandmark"},
          "mark": {"type": "text", "align": "left", "baseline": "middle", "fontSize": 15, "fontWeight": "bold", "color": "#131722", "font": "Roboto"},
          "encoding": {
            "x": {"field": "i", "type": "quantitative", "title": null, "scale": {"domain": [0.3243, 162.351], "nice": false, "zero": false}},
            "y": {"field": "v", "type": "quantitative", "title": null, "scale": {"domain": [21.27, 76.27], "nice": false, "zero": false}},
            "text": {"field": "t"}
          }
        },
        {
          "data": {"name": "frame"},
          "mark": {"type": "rule", "color": "#e0e3eb", "strokeWidth": 1},
          "encoding": {
            "x": {"field": "i", "type": "quantitative", "title": null, "scale": {"domain": [0.3243, 162.351], "nice": false, "zero": false}},
            "x2": {"field": "i2"},
            "y": {"field": "v", "type": "quantitative", "title": null, "scale": {"domain": [21.27, 76.27], "nice": false, "zero": false}},
            "y2": {"field": "v2"}
          }
        }
      ]
    }
  ],
  "config": {
    "font": "Roboto",
    "view": {"stroke": "#e0e3eb"},
    "axis": {
      "domain": false,
      "ticks": false,
      "tickSize": 0,
      "gridColor": "#eef0f3",
      "gridWidth": 1,
      "labelColor": "#131722",
      "labelFont": "Roboto",
      "labelFontSize": 12,
      "labelOverlap": false,
      "labelFlush": false
    }
  }
}
